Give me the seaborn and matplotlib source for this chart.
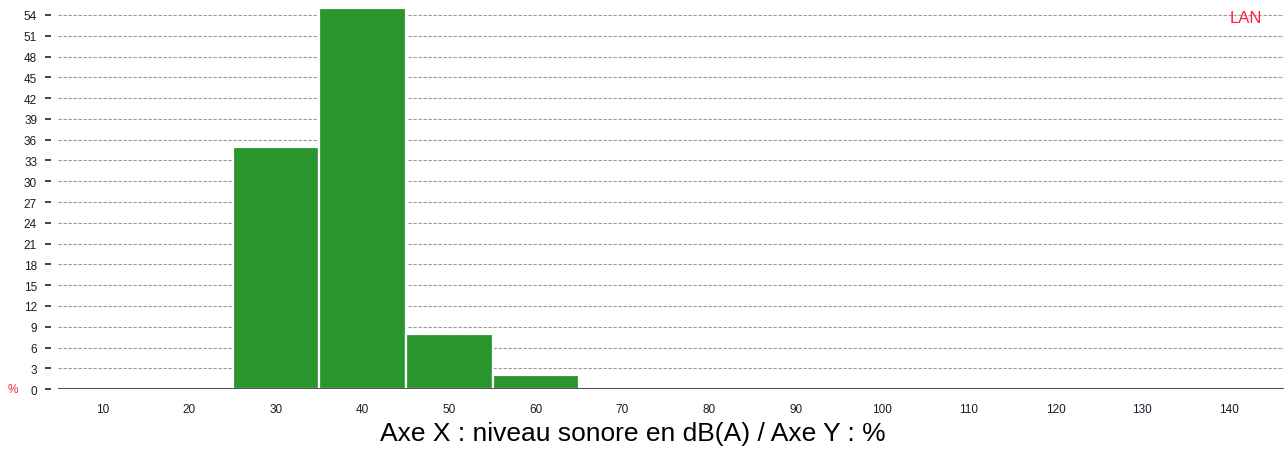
import matplotlib
matplotlib.use('Agg')
import matplotlib.pyplot as plt
import seaborn as sns
import pandas as pd
import numpy as np

# Data
levels = [10, 20, 30, 40, 50, 60, 70, 80, 90, 100, 110, 120, 130, 140]
percent = [0, 0, 35, 55, 8, 2, 0, 0, 0, 0, 0, 0, 0, 0]
y_ticks = list(range(0, 55, 3))

df = pd.DataFrame({'level': [str(v) for v in levels], 'percent': percent})

sns.set_style('white')
plt.rcParams['font.family'] = ['Liberation Sans', 'DejaVu Sans']

fig = plt.figure(figsize=(12.86, 4.52), dpi=100)
ax = fig.add_axes([0.045, 0.137, 0.9535, 0.863])

sns.barplot(data=df, x='level', y='percent', color='#2a952c', saturation=1,
            width=1.0, edgecolor='white', linewidth=1.6, ax=ax, zorder=2)

ax.set_xlim(-0.52, 13.64)
ax.set_ylim(0, 56.3)
ax.set_yticks(y_ticks)
ax.yaxis.grid(True, linestyle=(0, (3, 1.5)), color='#999999', linewidth=0.8, zorder=0)
ax.set_axisbelow(True)
ax.axhline(0, color='#555555', linewidth=1.5, zorder=3)

for s in ['top', 'right', 'bottom']:
    ax.spines[s].set_visible(False)
ax.spines['left'].set_position(('outward', 5))
ax.spines['left'].set_visible(False)

ax.tick_params(axis='y', direction='out', length=4, width=1.2, color='#222222',
               labelsize=8.5, pad=6, left=True, labelcolor='#1a1a2a')
ax.tick_params(axis='x', length=0, labelsize=8.5, pad=10, labelcolor='#1a1a2a')

ax.set_xlabel('')
ax.set_ylabel('')
fig.text(0.492, 0.04, 'Axe X : niveau sonore en dB(A) / Axe Y : %', fontsize=19,
         ha='center', va='center', color='black')

ax.text(-0.0326, 0, '%', transform=ax.get_yaxis_transform(), color='#ff2040',
        fontsize=8.5, ha='right', va='center')
ax.text(0.982, 53.7, 'LAN', transform=ax.get_yaxis_transform(), color='#ff2040',
        fontsize=12, ha='right', va='center')

fig.savefig('out.png', dpi=100)
